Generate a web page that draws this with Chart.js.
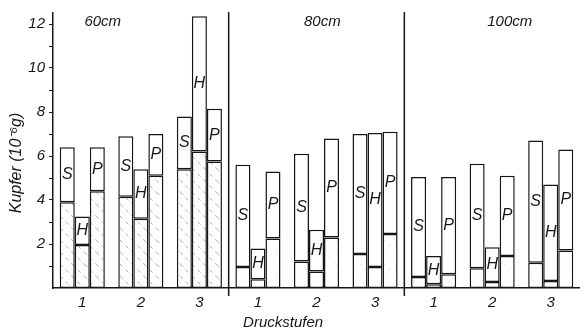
<!DOCTYPE html>
<html>
<head>
<meta charset="utf-8">
<script src="https://cdn.jsdelivr.net/npm/chart.js@4.4.1/dist/chart.umd.min.js"></script>
<style>
  html, body { margin: 0; padding: 0; background: #fff; }
  #wrap { width: 580px; height: 333px; }
</style>
</head>
<body>
<div id="wrap"><canvas id="myChart" width="580" height="333"></canvas></div>
<script>
// Druckstufen 1-3 for each depth panel (60cm, 80cm, 100cm)
const labels = ['1', '2', '3', '1', '2', '3', '1', '2', '3'];
const panelNames = ['60cm', '80cm', '100cm'];

// Kupfer (10^-6 g): total bar height and the hatched lower part
const sTotal = [6.4, 6.9, 7.8, 5.6, 6.1, 7.0, 5.05, 5.65, 6.7];
const sLower = [3.9, 4.15, 5.4, 0.95, 1.2, 1.55, 0.5, 0.9, 1.15];
const hTotal = [3.25, 5.4, 12.35, 1.8, 2.65, 7.05, 1.45, 1.85, 4.7];
const hLower = [1.95, 3.15, 6.2, 0.4, 0.75, 0.95, 0.17, 0.27, 0.32];
const pTotal = [6.4, 7.0, 8.15, 5.3, 6.8, 7.1, 5.05, 5.1, 6.3];
const pLower = [4.4, 5.1, 5.75, 2.25, 2.3, 2.45, 0.63, 1.45, 1.7];

const yTicks = [2, 4, 6, 8, 10, 12];
const yMinorTicks = [1, 3, 5, 7, 9, 11];

const FONT = "'Liberation Sans', Arial, sans-serif";
const INK = '#161616';

// sparse diagonal hatching for the lower parts
function makeHatch(color, dash) {
    const c = document.createElement('canvas');
    c.width = 12; c.height = 12;
    const g = c.getContext('2d');
    g.fillStyle = '#fff';
    g.fillRect(0, 0, 12, 12);
    g.strokeStyle = color;
    g.lineWidth = 0.8;
    g.setLineDash(dash);
    g.beginPath();
    g.moveTo(0, 0); g.lineTo(12, 12);
    g.stroke();
    return g.createPattern(c, 'repeat');
}

const ctx = document.getElementById('myChart').getContext('2d');
const hatchDark = makeHatch('#a0a0a0', [4, 4]);
const hatchLight = makeHatch('#c8c8c8', [1, 6]);

function lowerFill(context) {
    return context.dataIndex < 3 ? hatchDark : hatchLight;
}

function upper(total, lower) {
    return total.map((t, i) => t - lower[i]);
}

const barStyle = {
    borderColor: INK,
    borderWidth: 1.5,
    borderSkipped: false
};

const datasets = [
    Object.assign({ label: 'S', stack: 'S', data: sLower, backgroundColor: lowerFill, part: 'lower' }, barStyle),
    Object.assign({ label: 'S', stack: 'S', data: upper(sTotal, sLower), backgroundColor: '#fff', part: 'upper' }, barStyle),
    Object.assign({ label: 'H', stack: 'H', data: hLower, backgroundColor: lowerFill, part: 'lower' }, barStyle),
    Object.assign({ label: 'H', stack: 'H', data: upper(hTotal, hLower), backgroundColor: '#fff', part: 'upper' }, barStyle),
    Object.assign({ label: 'P', stack: 'P', data: pLower, backgroundColor: lowerFill, part: 'lower' }, barStyle),
    Object.assign({ label: 'P', stack: 'P', data: upper(pTotal, pLower), backgroundColor: '#fff', part: 'upper' }, barStyle)
];

// panel dividers, bar letters, panel titles, axis titles
const annotations = {
    id: 'annotations',
    afterDatasetsDraw(chart) {
        const c = chart.ctx;
        const area = chart.chartArea;
        const xs = chart.scales.x;
        c.save();
        c.strokeStyle = INK;
        c.lineWidth = 1.5;
        [3, 6].forEach(function (k) {
            const x = (xs.getPixelForValue(k - 1) + xs.getPixelForValue(k)) / 2;
            c.beginPath();
            c.moveTo(x, area.top - 1);
            c.lineTo(x, area.bottom + 8);
            c.stroke();
        });

        c.fillStyle = INK;
        c.textAlign = 'center';
        c.textBaseline = 'middle';
        c.font = 'italic 16px ' + FONT;
        chart.data.datasets.forEach(function (ds, i) {
            if (ds.part !== 'upper') return;
            chart.getDatasetMeta(i).data.forEach(function (bar) {
                c.fillText(ds.label, bar.x, (bar.y + bar.base) / 2);
            });
        });

        // panel titles
        c.font = 'italic 15px ' + FONT;
        const titleAt = [0.35, 4.1, 7.3];
        panelNames.forEach(function (name, p) {
            c.fillText(name, xs.getPixelForValue(titleAt[p]), area.top + 9);
        });

        // x title
        c.fillText('Druckstufen', xs.getPixelForValue(3.43), 323);

        // y title
        c.font = 'italic 16px ' + FONT;
        c.translate(17, 163);
        c.rotate(-Math.PI / 2);
        c.fillText('Kupfer (10\u207B\u2076g)', 0, 0);
        c.restore();
    }
};

new Chart(ctx, {
    type: 'bar',
    data: { labels: labels, datasets: datasets },
    options: {
        responsive: false,
        animation: false,
        layout: { padding: 0 },
        datasets: { bar: { categoryPercentage: 0.77, barPercentage: 1.0 } },
        plugins: { legend: { display: false }, tooltip: { enabled: false } },
        scales: {
            x: {
                stacked: true,
                grid: { display: false, drawTicks: false },
                border: { color: INK, width: 1.5 },
                ticks: {
                    color: INK,
                    font: { family: FONT, size: 15, style: 'italic' },
                    padding: 6,
                    maxRotation: 0,
                    autoSkip: false
                },
                afterFit: function (s) { s.height = 45; }
            },
            y: {
                stacked: true,
                min: 0,
                max: 12.5,
                afterBuildTicks: function (s) {
                    s.ticks = yMinorTicks.concat(yTicks).sort((a, b) => a - b).map(v => ({ value: v }));
                },
                grid: { drawOnChartArea: false, tickLength: 4, color: INK, lineWidth: 1 },
                border: { color: INK, width: 1.5 },
                ticks: {
                    color: INK,
                    font: { family: FONT, size: 15, style: 'italic' },
                    padding: 4,
                    callback: function (v) { return yTicks.includes(v) ? String(v) : ''; }
                },
                afterFit: function (s) { s.width = 53; }
            }
        }
    },
    plugins: [annotations]
});
</script>
</body>
</html>
